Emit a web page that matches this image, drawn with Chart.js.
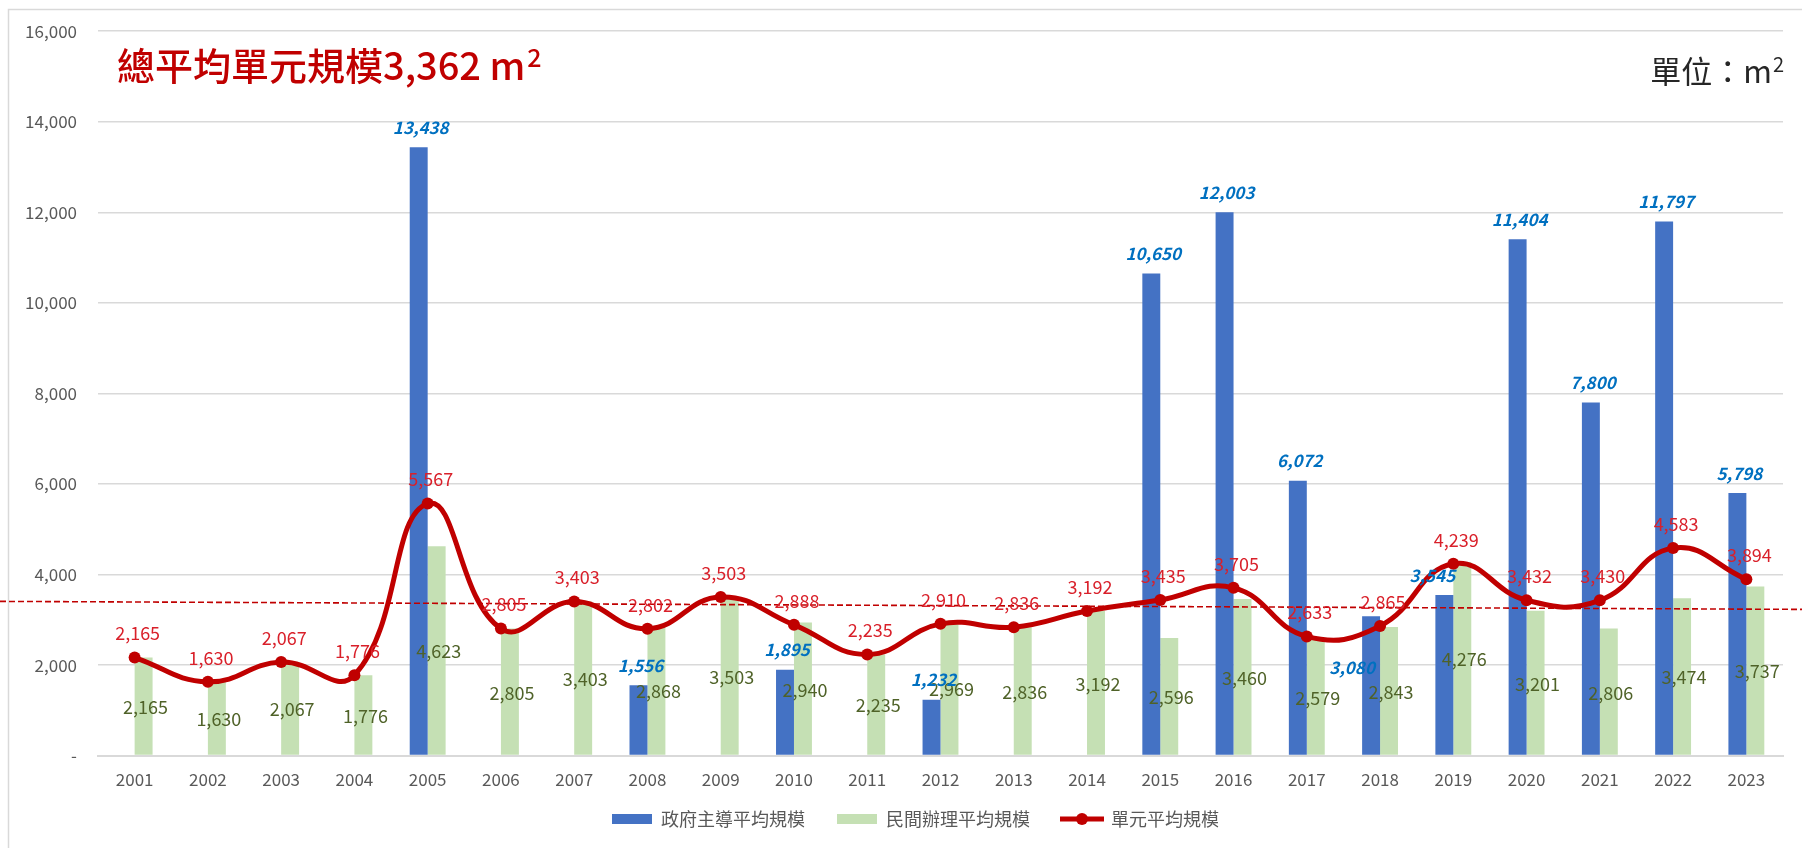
<!DOCTYPE html>
<html>
<head>
<meta charset="utf-8">
<script src="https://cdn.jsdelivr.net/npm/chart.js@4.4.1/dist/chart.umd.min.js"></script>
<style>
  html, body { margin: 0; padding: 0; background: #fff; }
  #wrap { width: 1802px; height: 848px; position: relative; }
</style>
</head>
<body>
<div id="wrap"><canvas id="scaleChart"></canvas></div>
<script>
// --- DATA ---
var years = ['2001', '2002', '2003', '2004', '2005', '2006', '2007', '2008', '2009', '2010', '2011', '2012',
             '2013', '2014', '2015', '2016', '2017', '2018', '2019', '2020', '2021', '2022', '2023'];
// 政府主導平均規模 (empty years have no gov-led case)
var govAvg = [null, null, null, null, 13438, null, null, 1556, null, 1895, null, 1232,
              null, null, 10650, 12003, 6072, 3080, 3545, 11404, 7800, 11797, 5798];
// 民間辦理平均規模
var privateAvg = [2165, 1630, 2067, 1776, 4623, 2805, 3403, 2868, 3503, 2940, 2235, 2969,
                  2836, 3192, 2596, 3460, 2579, 2843, 4276, 3201, 2806, 3474, 3737];
// 單元平均規模
var unitAvg = [2165, 1630, 2067, 1776, 5567, 2805, 3403, 2802, 3503, 2888, 2235, 2910,
               2836, 3192, 3435, 3705, 2633, 2865, 4239, 3432, 3430, 4583, 3894];
var overallAvg = 3362;
var yTicks = [0, 2000, 4000, 6000, 8000, 10000, 12000, 14000, 16000];
var seriesNames = ['政府主導平均規模', '民間辦理平均規模', '單元平均規模'];

var FONT = "'Noto Sans CJK TC', 'Noto Sans', sans-serif";
var BLUE = '#4472C4';
var GREEN = '#C5E0B4';
var RED = '#C00000';
var GRID = '#d9d9d9';

function fmt(v) { return v.toLocaleString('en-US'); }

// two gov labels were dragged by hand in the original
var govNudge = { 17: [-21, 71], 18: [-14, 0] };

// legend swatches as little canvases so the line entry gets its dot
function swatch(w, h, draw) {
  var c = document.createElement('canvas');
  c.width = w; c.height = h;
  draw(c.getContext('2d'));
  return c;
}
var swatches = [
  swatch(40, 10, function (g) { g.fillStyle = BLUE; g.fillRect(0, 0, 40, 10); }),
  swatch(40, 10, function (g) { g.fillStyle = GREEN; g.fillRect(0, 0, 40, 10); }),
  swatch(44, 14, function (g) {
    g.strokeStyle = RED; g.lineWidth = 5;
    g.beginPath(); g.moveTo(0, 7); g.lineTo(44, 7); g.stroke();
    g.fillStyle = RED; g.beginPath(); g.arc(22, 7, 6, 0, Math.PI * 2); g.fill();
  })
];

// --- PLUGINS ---
var frame = {
  id: 'frame',
  beforeDraw: function (chart) {
    var ctx = chart.ctx;
    ctx.save();
    ctx.strokeStyle = GRID;
    ctx.lineWidth = 1.5;
    ctx.beginPath();
    ctx.moveTo(8.5, chart.height);
    ctx.lineTo(8.5, 9.5);
    ctx.lineTo(chart.width, 9.5);
    ctx.stroke();
    ctx.restore();
  }
};

// legend sits a little right of the canvas centre in the original
var legendShift = {
  id: 'legendShift',
  afterLayout: function (chart) {
    if (chart.legend) {
      chart.legend.left += 24;
      chart.legend.right += 24;
    }
  }
};

var valueLabels = {
  id: 'valueLabels',
  afterDatasetsDraw: function (chart) {
    var ctx = chart.ctx;
    var y = chart.scales.y;

    // overall average, dashed, runs past the plot on both sides (hand drawn, slightly tilted)
    var yAvg = y.getPixelForValue(overallAvg);
    ctx.save();
    ctx.strokeStyle = RED;
    ctx.lineWidth = 1.6;
    ctx.setLineDash([6, 3]);
    ctx.beginPath();
    ctx.moveTo(0, yAvg - 2);
    ctx.lineTo(chart.width, yAvg + 6);
    ctx.stroke();
    ctx.restore();

    ctx.save();
    ctx.textAlign = 'center';
    ctx.textBaseline = 'middle';

    // green: centred in the bar
    ctx.font = '18px ' + FONT;
    ctx.fillStyle = '#4F6228';
    chart.getDatasetMeta(1).data.forEach(function (bar, i) {
      ctx.fillText(fmt(privateAvg[i]), bar.x + 2, (bar.y + bar.base) / 2 + 1);
    });

    // blue: above the bar, bold italic
    ctx.font = 'italic bold 17px ' + FONT;
    ctx.fillStyle = '#0070C0';
    chart.getDatasetMeta(0).data.forEach(function (bar, i) {
      if (govAvg[i] == null) return;
      var n = govNudge[i] || [0, 0];
      ctx.fillText(fmt(govAvg[i]), bar.x + 2 + n[0], bar.y - 20 + n[1]);
    });

    // red: above each point
    ctx.font = '18px ' + FONT;
    ctx.fillStyle = '#D9202A';
    chart.getDatasetMeta(2).data.forEach(function (pt, i) {
      ctx.fillText(fmt(unitAvg[i]), pt.x + 3, pt.y - 24);
    });
    ctx.restore();
  }
};

var headings = {
  id: 'headings',
  afterDraw: function (chart) {
    var ctx = chart.ctx;
    ctx.save();
    ctx.textBaseline = 'alphabetic';
    ctx.textAlign = 'left';

    // big red title
    var t = '總平均單元規模' + fmt(overallAvg) + ' m';
    ctx.font = '500 38px ' + FONT;
    ctx.fillStyle = RED;
    ctx.fillText(t, 117, 80);
    var w = ctx.measureText(t).width;
    ctx.font = '500 25px ' + FONT;
    ctx.fillText('2', 117 + w + 2, 67);

    // unit, top right
    var u = '單位：m';
    ctx.font = '31px ' + FONT;
    var uw = ctx.measureText(u).width;
    ctx.font = '20px ' + FONT;
    var sw = ctx.measureText('2').width;
    var x0 = 1784 - uw - sw - 1;
    ctx.fillStyle = '#262626';
    ctx.font = '31px ' + FONT;
    ctx.fillText(u, x0, 83);
    ctx.font = '20px ' + FONT;
    ctx.fillText('2', x0 + uw + 1, 72);
    ctx.restore();
  }
};

// --- CHART ---
var ctx = document.getElementById('scaleChart').getContext('2d');
var scaleChart = new Chart(ctx, {
  type: 'bar',
  data: {
    labels: years,
    datasets: [{
      label: seriesNames[0],
      data: govAvg,
      backgroundColor: BLUE,
      categoryPercentage: 0.49,
      barPercentage: 1.0,
      order: 1
    }, {
      label: seriesNames[1],
      data: privateAvg,
      backgroundColor: GREEN,
      categoryPercentage: 0.49,
      barPercentage: 1.0,
      order: 1
    }, {
      type: 'line',
      label: seriesNames[2],
      data: unitAvg,
      borderColor: RED,
      borderWidth: 5,
      tension: 0.45,
      pointRadius: 6,
      pointBackgroundColor: RED,
      pointBorderWidth: 0,
      order: 0
    }]
  },
  options: {
    responsive: true,
    maintainAspectRatio: false,
    animation: false,
    layout: { padding: { top: 31, right: 19, left: 0, bottom: 10 } },
    plugins: {
      tooltip: { enabled: false },
      legend: {
        position: 'bottom',
        labels: {
          usePointStyle: true,
          pointStyleWidth: 40,
          boxHeight: 10,
          padding: 14,
          color: '#595959',
          font: { size: 18, family: FONT },
          generateLabels: function (chart) {
            return [0, 1, 2].map(function (i) {
              return {
                // ideographic space widens the gap to the next entry
                text: seriesNames[i] + (i < 2 ? '\u3000' : ''),
                pointStyle: swatches[i],
                datasetIndex: i,
                fontColor: '#595959',
                lineWidth: 0,
                hidden: false
              };
            });
          }
        }
      }
    },
    scales: {
      x: {
        grid: { display: false },
        border: { color: GRID, width: 2 },
        ticks: {
          color: '#595959',
          font: { size: 17, family: FONT },
          padding: 6,
          maxRotation: 0,
          autoSkip: false
        }
      },
      y: {
        min: 0,
        max: 16000,
        border: { display: false },
        grid: { color: GRID, lineWidth: 1.5, drawTicks: false },
        afterBuildTicks: function (scale) {
          scale.ticks = yTicks.map(function (v) { return { value: v }; });
        },
        afterFit: function (scale) { scale.width = 98; },
        ticks: {
          color: '#595959',
          font: { size: 17, family: FONT },
          padding: 21,
          callback: function (v) { return v === 0 ? '-' : fmt(v); }
        }
      }
    }
  },
  plugins: [frame, legendShift, valueLabels, headings]
});
</script>
</body>
</html>
